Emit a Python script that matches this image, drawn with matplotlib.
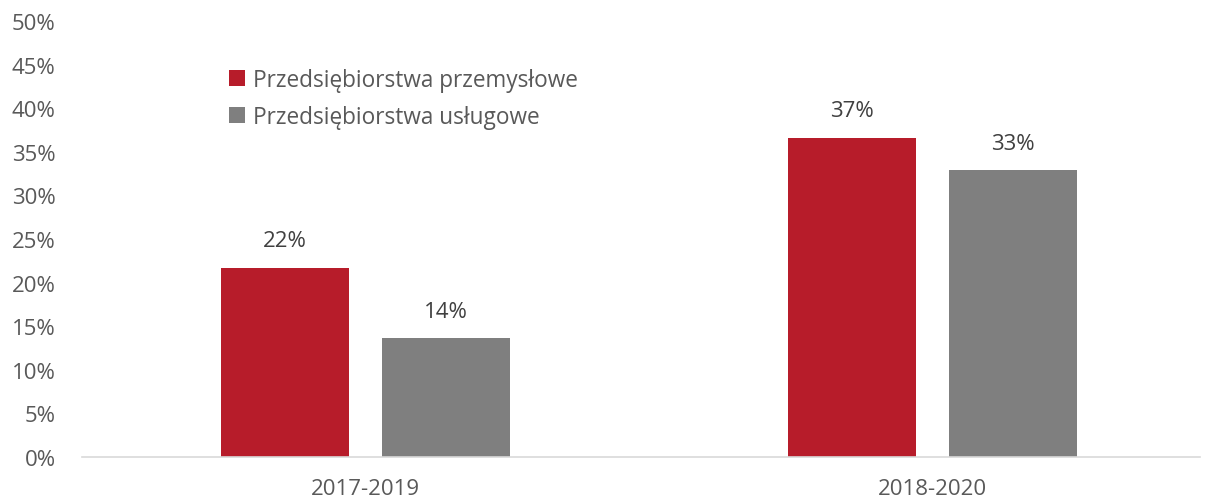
import matplotlib.pyplot as plt
import numpy as np
from matplotlib.ticker import FuncFormatter

okresy = ['2017-2019', '2018-2020']
przemyslowe = [21.7, 36.6]
uslugowe = [13.6, 32.9]
serie = ['Przedsiębiorstwa przemysłowe', 'Przedsiębiorstwa usługowe']
kolory = ['#B71C2A', '#7F7F7F']

plt.rcParams['font.family'] = ['Open Sans', 'DejaVu Sans']
tekst = '#595959'

fig = plt.figure(figsize=(12.06, 5.02), dpi=100)
ax = fig.add_axes([82 / 1206, 1 - 458 / 502, 1118 / 1206, 436 / 502])

x = np.arange(len(okresy))
w = 0.226
off = 0.1425
b1 = ax.bar(x - off, przemyslowe, w, color=kolory[0], label=serie[0])
b2 = ax.bar(x + off, uslugowe, w, color=kolory[1], label=serie[1])

for bars in (b1, b2):
    for r in bars:
        h = r.get_height()
        ax.text(r.get_x() + r.get_width() / 2, h + 1.9, f'{h:.0f}%',
                ha='center', va='bottom', fontsize=16, color='#404040')

ax.set_xlim(-0.5, 1.472)
ax.set_ylim(0, 50)
ax.set_yticks(np.arange(0, 51, 5))
ax.yaxis.set_major_formatter(FuncFormatter(lambda v, p: f'{v:.0f}%'))
ax.set_xticks(x)
ax.set_xticklabels(okresy)
ax.tick_params(axis='both', length=0, labelsize=16, labelcolor=tekst)
ax.tick_params(axis='y', pad=19)
ax.tick_params(axis='x', pad=15)
for s in ['top', 'right', 'left']:
    ax.spines[s].set_visible(False)
ax.spines['bottom'].set_color('#D9D9D9')
ax.spines['bottom'].set_linewidth(1.2)

leg = ax.legend(loc='upper left', bbox_to_anchor=(218 / 1206, 1 - 58 / 502),
                bbox_transform=fig.transFigure, frameon=False, fontsize=16.3,
                handlelength=0.7, handleheight=0.7, handletextpad=0.35,
                labelspacing=0.55, borderpad=0)
for t in leg.get_texts():
    t.set_color(tekst)

plt.savefig('out.png', dpi=100)
